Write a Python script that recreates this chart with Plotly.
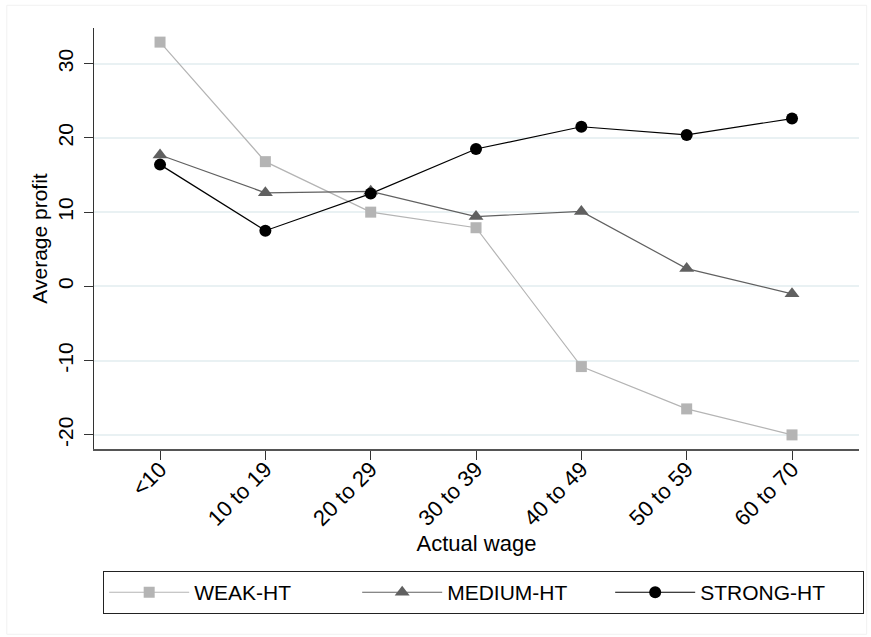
import plotly.graph_objects as go

categories = ["<10", "10 to 19", "20 to 29", "30 to 39", "40 to 49", "50 to 59", "60 to 70"]
weak_ht = [32.9, 16.8, 10.0, 7.9, -10.8, -16.5, -20.0]
medium_ht = [17.7, 12.6, 12.8, 9.4, 10.1, 2.4, -1.0]
strong_ht = [16.4, 7.5, 12.5, 18.5, 21.5, 20.4, 22.6]
y_ticks = [-20, -10, 0, 10, 20, 30]
y_ticktext = ["-20", "-10", "0", "10", "20", "30"]

FONT = "Liberation Sans, Arial, Helvetica, sans-serif"

fig = go.Figure()
fig.add_trace(go.Scatter(
    x=categories, y=weak_ht, name="WEAK-HT", mode="lines+markers",
    line=dict(color="#b4b4b4", width=1.2),
    marker=dict(symbol="square", size=11, color="#b4b4b4"),
))
fig.add_trace(go.Scatter(
    x=categories, y=medium_ht, name="MEDIUM-HT", mode="lines+markers",
    line=dict(color="#606060", width=1.2),
    marker=dict(symbol="triangle-up", size=13, color="#606060"),
))
fig.add_trace(go.Scatter(
    x=categories, y=strong_ht, name="STRONG-HT", mode="lines+markers",
    line=dict(color="#000000", width=1.2),
    marker=dict(symbol="circle", size=12, color="#000000"),
))

fig.update_layout(
    width=871, height=637,
    margin=dict(l=94, r=12, t=28, b=188, autoexpand=False),
    paper_bgcolor="white", plot_bgcolor="white",
    font=dict(family=FONT, size=21, color="black"),
    showlegend=True,
    legend=dict(
        orientation="h", x=0.012, y=-0.29, xanchor="left", yanchor="top",
        bordercolor="#222", borderwidth=1, bgcolor="white",
        font=dict(size=21), itemwidth=80,
        entrywidth=158, entrywidthmode="pixels",
        traceorder="normal",
    ),
)
fig.update_xaxes(
    type="category", range=[-0.627, 6.636], automargin=False,
    showgrid=False, zeroline=False,
    showline=True, linecolor="#555", linewidth=1.6,
    ticks="outside", ticklen=9, tickcolor="#333", tickwidth=1.2,
    tickangle=-45, tickfont=dict(size=22), ticklabelstandoff=-12,
    title=dict(text="Actual wage", font=dict(size=22), standoff=6),
)
fig.update_yaxes(
    range=[-21.9, 34.8], tickvals=y_ticks, ticktext=y_ticktext, automargin=False,
    showgrid=True, gridcolor="#e9f1f3", gridwidth=1.5,
    zeroline=False,
    showline=True, linecolor="#333", linewidth=1.2,
    ticks="outside", ticklen=9, tickcolor="#333", tickwidth=1.2,
    tickangle=-90, tickfont=dict(size=21), ticklabelstandoff=3,
    title=dict(text="Average profit", font=dict(size=21), standoff=0),
)
fig.add_shape(type="rect", xref="paper", yref="paper",
              x0=-0.114, x1=1.01, y0=-0.44, y1=1.054,
              line=dict(color="#f1f1f1", width=1), layer="below")

fig.write_html(
    "out.html",
    config={"displayModeBar": False},
    post_script="document.body.style.margin='0';document.body.style.padding='0';",
)
